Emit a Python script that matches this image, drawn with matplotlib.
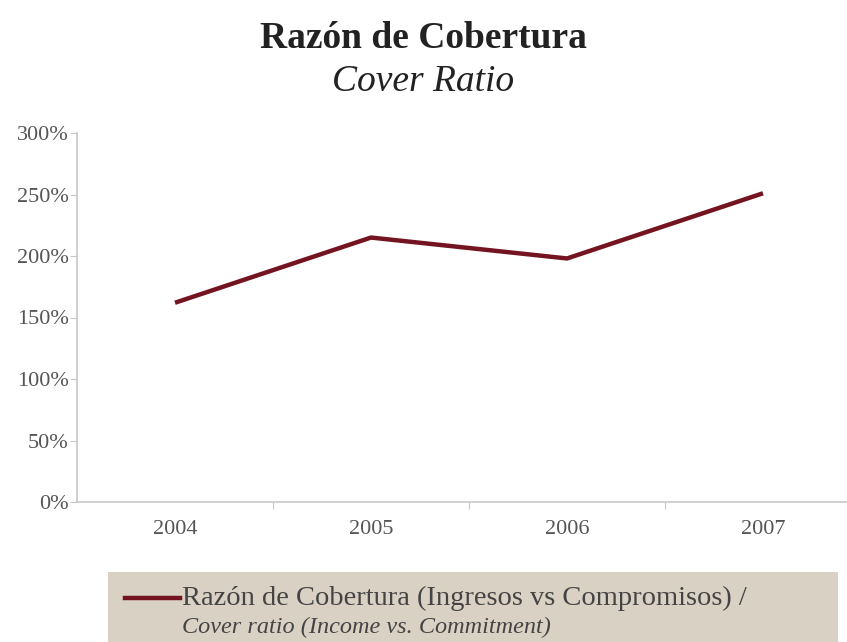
import matplotlib
matplotlib.use("Agg")
import matplotlib.pyplot as plt
from matplotlib.lines import Line2D
from matplotlib.patches import Rectangle
from matplotlib.ticker import FuncFormatter

# Cover ratio per year (percent)
years = ["2004", "2005", "2006", "2007"]
cover_ratio = [162, 215, 198, 251]

title_es = "Razón de Cobertura"
title_en = "Cover Ratio"
legend_es = "Razón de Cobertura (Ingresos vs Compromisos) /"
legend_en = "Cover ratio (Income vs. Commitment)"

line_color = "#731420"
text_color = "#555555"
axis_color = "#c8c8c8"
legend_bg = "#d9d1c3"

plt.rcParams["font.family"] = ["Liberation Serif", "DejaVu Serif"]

fig = plt.figure(figsize=(8.47, 6.42), dpi=100)
fig.patch.set_facecolor("white")

# axes run past the right edge of the figure, like the original layout
W, H = 847, 642
ax = fig.add_axes([77 / W, 1 - 502 / H, (861 - 77) / W, (502 - 133) / H])

x = list(range(len(years)))
ax.plot(x, cover_ratio, color=line_color, linewidth=3.2, solid_capstyle="butt")

ax.set_xlim(-0.5, len(years) - 0.5)
ax.set_ylim(0, 300)
ax.set_yticks(range(0, 301, 50))
ax.yaxis.set_major_formatter(FuncFormatter(lambda v, p: f"{int(v)}%"))

# boundary ticks between categories, labels at the centres
ax.set_xticks([i + 0.5 for i in x[:-1]])
ax.set_xticklabels([])
ax.set_xticks(x, minor=True)
ax.set_xticklabels(years, minor=True)
ax.tick_params(axis="x", which="major", length=5, color=axis_color, direction="out")
ax.tick_params(axis="x", which="minor", length=0, pad=13, labelsize=16, labelcolor=text_color)
ax.tick_params(axis="y", length=5, color=axis_color, pad=1, labelsize=16, labelcolor=text_color)

for side in ["top", "right"]:
    ax.spines[side].set_visible(False)
for side in ["left", "bottom"]:
    ax.spines[side].set_color(axis_color)
    ax.spines[side].set_linewidth(1.2)

# title, two languages
fig.text(0.5, 1 - 38 / H, title_es, ha="center", va="center",
         fontsize=27, fontweight="bold", color="#222222")
fig.text(0.5, 1 - 82 / H, title_en, ha="center", va="center",
         fontsize=27, style="italic", color="#222222")

# legend panel
fig.patches.append(Rectangle((108 / W, 0), (838 - 108) / W, (642 - 572) / H,
                             transform=fig.transFigure, facecolor=legend_bg,
                             edgecolor="none"))
fig.lines.append(Line2D([125 / W, 180 / W], [1 - 598 / H, 1 - 598 / H],
                        transform=fig.transFigure, color=line_color, linewidth=3.2))
fig.text(182 / W, 1 - 598 / H, legend_es, ha="left", va="center",
         fontsize=20.5, color="#444444")
fig.text(182 / W, 1 - 627 / H, legend_en, ha="left", va="center",
         fontsize=17.5, style="italic", color="#444444")

fig.savefig("out.png", dpi=100)
